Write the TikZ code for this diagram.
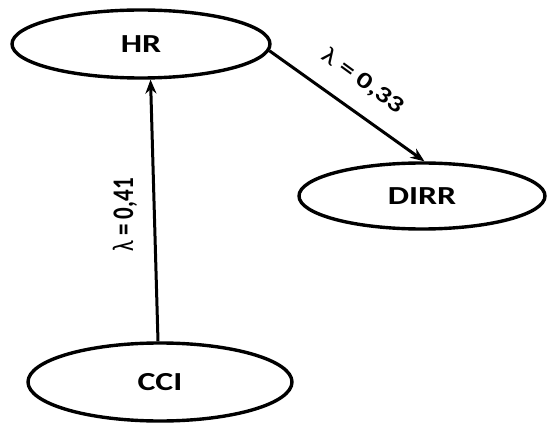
\documentclass[tikz,border=0pt]{standalone}
\usepackage{fontspec}
\setmainfont{Carlito}
\usetikzlibrary{shapes.geometric,arrows.meta}
\newcommand{\lam}{{\mdseries λ}}
\newcommand{\wide}[1]{\scalebox{1.3}[1]{#1}}
\newcommand{\tall}[1]{\scalebox{1}[1.3]{#1}}
\begin{document}
\begin{tikzpicture}[x=1pt,y=1pt,
  latent/.style={draw, ellipse, line width=3.4pt, inner sep=0pt,
    font=\fontsize{26}{30}\selectfont\bfseries},
  arr/.style={line width=3pt, -{Stealth[length=14pt,width=11pt]}},
  lbl/.style={font=\fontsize{23}{26}\selectfont\bfseries, inner sep=0pt}]
\useasboundingbox (0,0) rectangle (547,424);
\node[latent, minimum width=258pt, minimum height=68pt] (HR) at (141,380) {\wide{HR}};
\node[latent, minimum width=246pt, minimum height=66pt] (DIRR) at (422,228) {\wide{DIRR}};
\node[latent, minimum width=264pt, minimum height=78pt] (CCI) at (160,42) {\wide{CCI}};
\draw[arr] ([xshift=-2pt]CCI.north) -- (HR.-75);
\draw[arr] (HR.-3) -- (DIRR.86);
\node[lbl, rotate=90] (l41) at (125,209) {\tall{\lam{} = 0,41}};
\node[lbl, rotate=-36] (l33) at (363,343) {\wide{\lam{} = 0,33}};
\end{tikzpicture}
\end{document}
